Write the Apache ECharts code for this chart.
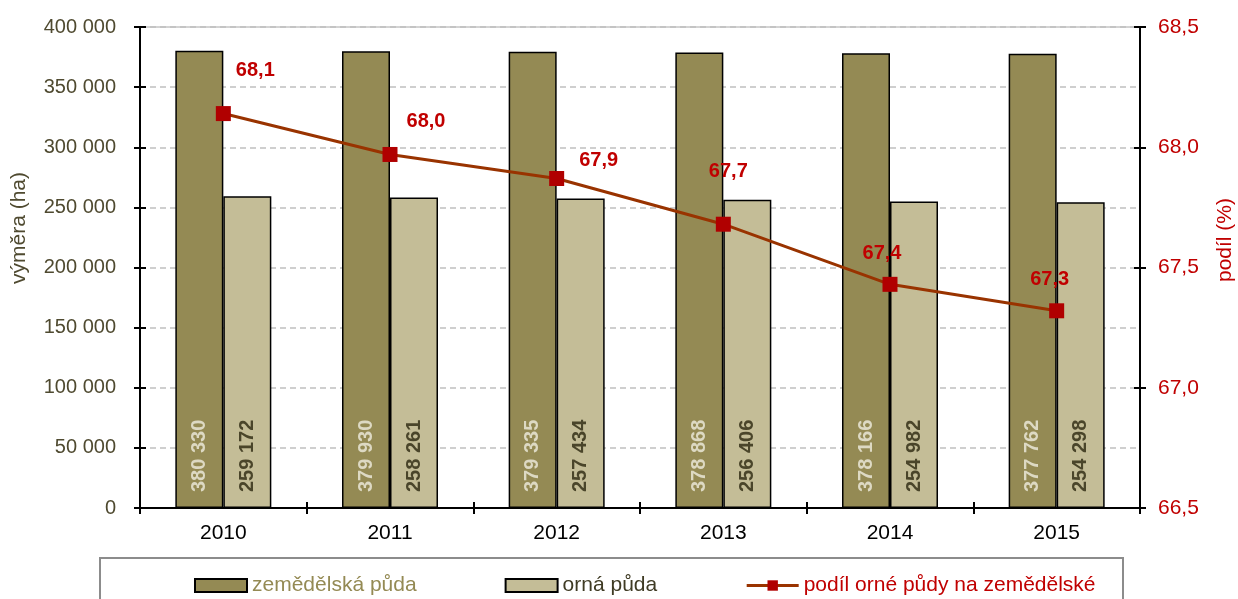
<!DOCTYPE html>
<html>
<head>
<meta charset="utf-8">
<script src="https://cdn.jsdelivr.net/npm/echarts@6/dist/echarts.min.js"></script>
<style>
  html, body { margin: 0; padding: 0; background: #fff; }
  #chart { width: 1238px; height: 599px; }
</style>
</head>
<body>
<div id="chart"></div>
<script>
/* data */
var YEARS = ['2010', '2011', '2012', '2013', '2014', '2015'];
var ZEMEDELSKA = [380330, 379930, 379335, 378868, 378166, 377762];
var ORNA = [259172, 258261, 257434, 256406, 254982, 254298];
var PODIL = [68.14, 67.97, 67.87, 67.68, 67.43, 67.32];

var NAMES = ['zemědělská půda', 'orná půda', 'podíl orné půdy na zemědělské'];

/* where each red label sits relative to its point */
var PODIL_LABEL_OFFSET = [[32, -43], [36, -33], [42, -18], [5, -53], [-8, -31], [-7, -31]];

var FONT = 'Liberation Sans, Arial, sans-serif';
var OLIVE_TEXT = '#4f4a30';
var RED = '#c00000';

var thousands = function (v) {
    return String(v).replace(/\B(?=(\d{3})+(?!\d))/g, ' ');
};
var comma1 = function (v) {
    return Number(v).toFixed(1).replace('.', ',');
};

var barLabel = function (color) {
    return {
        show: true,
        position: 'insideBottom',
        distance: 16,
        rotate: 90,
        align: 'left',
        verticalAlign: 'middle',
        color: color,
        fontFamily: FONT,
        fontSize: 20,
        fontWeight: 'bold',
        formatter: function (p) { return thousands(p.value); }
    };
};

var podilData = PODIL.map(function (v, i) {
    return {
        value: v,
        label: { offset: PODIL_LABEL_OFFSET[i] }
    };
});

var option = {
    backgroundColor: '#ffffff',
    animation: false,
    grid: {
        left: 140, right: 98, top: 27, bottom: 91,
        show: true, borderColor: '#a6a6a6', borderWidth: 1
    },
    legend: {
        left: 189,
        top: 570,
        itemWidth: 52,
        itemHeight: 13,
        itemGap: 88,
        textStyle: { fontFamily: FONT, fontSize: 21 },
        data: [
            { name: NAMES[0], icon: 'rect', textStyle: { color: '#948a54' } },
            { name: NAMES[1], icon: 'rect', textStyle: { color: '#3f3b24' } },
            { name: NAMES[2], lineStyle: { width: 3 }, textStyle: { color: RED } }
        ]
    },
    xAxis: [
        {
            type: 'category',
            data: YEARS,
            position: 'bottom',
            axisLine: { lineStyle: { color: '#000', width: 2 } },
            axisTick: { show: true, length: 6, lineStyle: { color: '#000', width: 2 } },
            axisLabel: { color: '#000', fontFamily: FONT, fontSize: 21, margin: 15 },
            splitLine: { show: false }
        },
        {
            type: 'category',
            data: YEARS,
            position: 'bottom',
            axisLine: { show: false },
            axisTick: { show: true, inside: true, length: 6, lineStyle: { color: '#000', width: 2 } },
            axisLabel: { show: false },
            splitLine: { show: false }
        }
    ],
    yAxis: [
        {
            type: 'value',
            position: 'left',
            min: 0, max: 400000, interval: 50000,
            axisLine: { show: true, lineStyle: { color: '#000', width: 2 } },
            axisTick: { show: true, length: 6, lineStyle: { color: '#000', width: 2 } },
            axisLabel: { color: OLIVE_TEXT, fontFamily: FONT, fontSize: 20, margin: 24, formatter: thousands },
            splitLine: { show: true, lineStyle: { color: '#c0c0c0', width: 1.5, type: [6, 4] } }
        },
        {
            type: 'value',
            position: 'right',
            min: 66.5, max: 68.5, interval: 0.5,
            axisLine: { show: true, lineStyle: { color: '#000', width: 2 } },
            axisTick: { show: true, length: 6, lineStyle: { color: '#000', width: 2 } },
            axisLabel: { color: RED, fontFamily: FONT, fontSize: 21, margin: 18, formatter: comma1 },
            splitLine: { show: false }
        },
        {
            type: 'value',
            position: 'left',
            min: 0, max: 400000, interval: 50000,
            axisLine: { show: false },
            axisTick: { show: true, inside: true, length: 6, lineStyle: { color: '#000', width: 2 } },
            axisLabel: { show: false },
            splitLine: { show: false }
        },
        {
            type: 'value',
            position: 'right',
            min: 66.5, max: 68.5, interval: 0.5,
            axisLine: { show: false },
            axisTick: { show: true, inside: true, length: 6, lineStyle: { color: '#000', width: 2 } },
            axisLabel: { show: false },
            splitLine: { show: false }
        }
    ],
    graphic: [
        {
            type: 'text',
            x: 19, y: 228,
            rotation: Math.PI / 2,
            style: {
                text: 'výměra (ha)',
                fill: OLIVE_TEXT,
                font: '21px ' + FONT,
                align: 'center',
                verticalAlign: 'middle'
            }
        },
        {
            type: 'text',
            x: 1225, y: 240,
            rotation: Math.PI / 2,
            style: {
                text: 'podíl (%)',
                fill: RED,
                font: '21px ' + FONT,
                align: 'center',
                verticalAlign: 'middle'
            }
        },
        {
            type: 'rect',
            shape: { x: 100, y: 558, width: 1023, height: 60 },
            style: { fill: 'none', stroke: '#8c8c8c', lineWidth: 2 },
            z: 100
        }
    ],
    series: [
        {
            name: NAMES[0],
            type: 'bar',
            data: ZEMEDELSKA,
            barWidth: 48,
            barGap: '0%',
            itemStyle: { color: '#948a54', borderColor: '#000', borderWidth: 1.5 },
            label: barLabel('#ddd9c3')
        },
        {
            name: NAMES[1],
            type: 'bar',
            data: ORNA,
            barWidth: 48,
            barGap: '0%',
            itemStyle: { color: '#c4bd97', borderColor: '#000', borderWidth: 1.5 },
            label: barLabel('#4a452a')
        },
        {
            name: NAMES[2],
            type: 'line',
            yAxisIndex: 1,
            data: podilData,
            symbol: 'rect',
            symbolSize: 15,
            lineStyle: { color: '#993300', width: 3 },
            itemStyle: { color: '#b00000' },
            z: 5,
            label: {
                show: true,
                position: 'inside',
                color: RED,
                fontFamily: FONT,
                fontSize: 20,
                fontWeight: 'bold',
                formatter: function (p) { return comma1(p.value); }
            }
        }
    ]
};

var chart = echarts.init(document.getElementById('chart'));
chart.setOption(option);
</script>
</body>
</html>
